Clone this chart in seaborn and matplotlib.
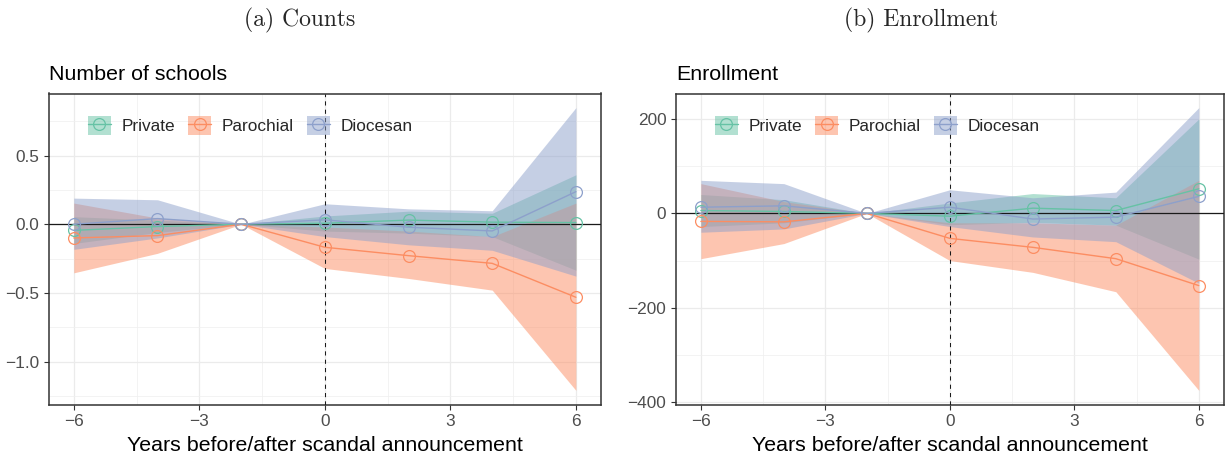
import numpy as np
import pandas as pd
import matplotlib
matplotlib.use("Agg")
import matplotlib.pyplot as plt
import seaborn as sns
from matplotlib.patches import Patch
from matplotlib.lines import Line2D
from matplotlib.legend_handler import HandlerTuple

# ---------------- data ----------------
years = [-6, -4, -2, 0, 2, 4, 6]
groups = ["Private", "Parochial", "Diocesan"]

# (a) Counts: number of schools
cnt_private_est = [-0.045, -0.017, 0.0, 0.007, 0.030, 0.015, 0.012]
cnt_private_lo = [-0.14, -0.06, 0.0, -0.05, -0.065, -0.09, -0.335]
cnt_private_hi = [0.055, 0.03, 0.0, 0.06, 0.095, 0.08, 0.36]
cnt_parochial_est = [-0.100, -0.083, 0.0, -0.168, -0.229, -0.285, -0.532]
cnt_parochial_lo = [-0.354, -0.212, 0.0, -0.322, -0.395, -0.48, -1.21]
cnt_parochial_hi = [0.154, 0.045, 0.0, -0.02, -0.05, -0.09, 0.154]
cnt_diocesan_est = [0.0, 0.041, 0.0, 0.032, -0.022, -0.049, 0.237]
cnt_diocesan_lo = [-0.183, -0.10, 0.0, -0.09, -0.15, -0.19, -0.378]
cnt_diocesan_hi = [0.19, 0.178, 0.0, 0.149, 0.112, 0.098, 0.849]

# (b) Enrollment
enr_private_est = [6, 4, 0, -6, 11, 6, 52]
enr_private_lo = [-28, -20, 0, -24, -19, -25, -97]
enr_private_hi = [40, 29, 0, 22, 42, 33, 200]
enr_parochial_est = [-17, -18, 0, -53, -72, -96, -153]
enr_parochial_lo = [-96, -64, 0, -100, -125, -166, -375]
enr_parochial_hi = [63, 25, 0, -20, -20, -25, 70]
enr_diocesan_est = [13, 16, 0, 13, -12, -8, 36]
enr_diocesan_lo = [-40, -33, 0, -28, -50, -60, -148]
enr_diocesan_hi = [70, 63, 0, 50, 33, 45, 224]

panel_titles = ["(a) Counts", "(b) Enrollment"]
plot_titles = ["Number of schools", "Enrollment"]
xlabel = "Years before/after scandal announcement"


def make_df(est, lo, hi):
    rows = []
    for g, e, l, h in zip(groups, est, lo, hi):
        for y, ev, lv, hv in zip(years, e, l, h):
            rows.append(dict(year=y, type=g, est=ev, lo=lv, hi=hv))
    return pd.DataFrame(rows)


df_cnt = make_df([cnt_private_est, cnt_parochial_est, cnt_diocesan_est],
                 [cnt_private_lo, cnt_parochial_lo, cnt_diocesan_lo],
                 [cnt_private_hi, cnt_parochial_hi, cnt_diocesan_hi])
df_enr = make_df([enr_private_est, enr_parochial_est, enr_diocesan_est],
                 [enr_private_lo, enr_parochial_lo, enr_diocesan_lo],
                 [enr_private_hi, enr_parochial_hi, enr_diocesan_hi])

# ---------------- style ----------------
sns.set_theme(style="white")
plt.rcParams["font.family"] = ["Liberation Sans", "DejaVu Sans"]
plt.rcParams["axes.unicode_minus"] = True

palette = sns.color_palette("Set2", 3)
colors = dict(zip(groups, palette))

fig = plt.figure(figsize=(12.25, 4.59), dpi=100)
ax1 = fig.add_axes([48.7 / 1225, 1 - 404.5 / 459, (601 - 48.7) / 1225, 311 / 459])
ax2 = fig.add_axes([676 / 1225, 1 - 404.5 / 459, (1223.7 - 676) / 1225, 311 / 459])

yt = [([-1.0, -0.5, 0.0, 0.5], [-1.25, -0.75, -0.25, 0.25, 0.75]),
      ([-400, -200, 0, 200], [-300, -100, 100])]

for ax, df, ttl, (ymaj, ymin) in zip([ax1, ax2], [df_cnt, df_enr], plot_titles, yt):
    # ribbons
    for g in groups:
        sub = df[df.type == g]
        ax.fill_between(sub.year, sub.lo, sub.hi, color=colors[g], alpha=0.5,
                        linewidth=0, zorder=2)
    ax.axhline(0, color="#1a1a1a", lw=0.9, zorder=3)
    ax.axvline(0, color="#1a1a1a", lw=0.75, ls=(0, (4, 4)), zorder=3)
    sns.lineplot(data=df, x="year", y="est", hue="type", hue_order=groups,
                 palette=colors, marker="o", markersize=8.5, markerfacecolor="none",
                 lw=1.0, legend=False, ax=ax, zorder=4)
    for ln in ax.get_lines()[2:]:
        ln.set_markeredgecolor(ln.get_color())
        ln.set_markeredgewidth(0.9)

    # scales (ggplot-like 5% expansion)
    lo = df.lo.min(); hi = df.hi.max(); pad = 0.05 * (hi - lo)
    ax.set_ylim(lo - pad, hi + pad)
    ax.set_xlim(-6.6, 6.6)
    ax.set_xticks([-6, -3, 0, 3, 6])
    ax.set_xticks([-4.5, -1.5, 1.5, 4.5], minor=True)
    ax.set_yticks(ymaj)
    ax.set_yticks(ymin, minor=True)
    ax.grid(True, which="major", color="#EBEBEB", lw=0.9, zorder=0)
    ax.grid(True, which="minor", color="#F0F0F0", lw=0.55, zorder=0)
    ax.set_axisbelow(True)
    for s in ax.spines.values():
        s.set_color("#333333")
        s.set_linewidth(1.1)
        s.set_visible(True)
    ax.tick_params(which="major", length=3.5, width=0.8, color="#333333",
                   labelsize=12.4, labelcolor="#4D4D4D", pad=3.5,
                   bottom=True, left=True)
    ax.tick_params(which="minor", length=0, bottom=False, left=False)
    ax.set_xlabel(xlabel, fontsize=15.4, color="black", labelpad=5)
    ax.set_ylabel("")
    ax.set_title(ttl, loc="left", fontsize=15.4, pad=9.5, color="black")

    handles = [(Patch(facecolor=colors[g], alpha=0.5, linewidth=0),
                Line2D([], [], color=colors[g], lw=1.0, marker="o", markersize=8.5,
                       markerfacecolor="none", markeredgecolor=colors[g],
                       markeredgewidth=0.9))
               for g in groups]
    ax.legend(handles, groups, handler_map={tuple: HandlerTuple(ndivide=1)},
              ncol=3, loc="upper left", bbox_to_anchor=(0.0712, 0.928),
              frameon=False, fontsize=12.4, borderpad=0, borderaxespad=0,
              handlelength=1.33, handleheight=1.33, handletextpad=0.64,
              columnspacing=0.73)

fig.text(300 / 1225, 1 - 20 / 459, panel_titles[0], family="cmr10",
         fontsize=17, ha="center", va="center")
fig.text(921 / 1225, 1 - 20 / 459, panel_titles[1], family="cmr10",
         fontsize=17, ha="center", va="center")

fig.savefig("out.png", dpi=100)
